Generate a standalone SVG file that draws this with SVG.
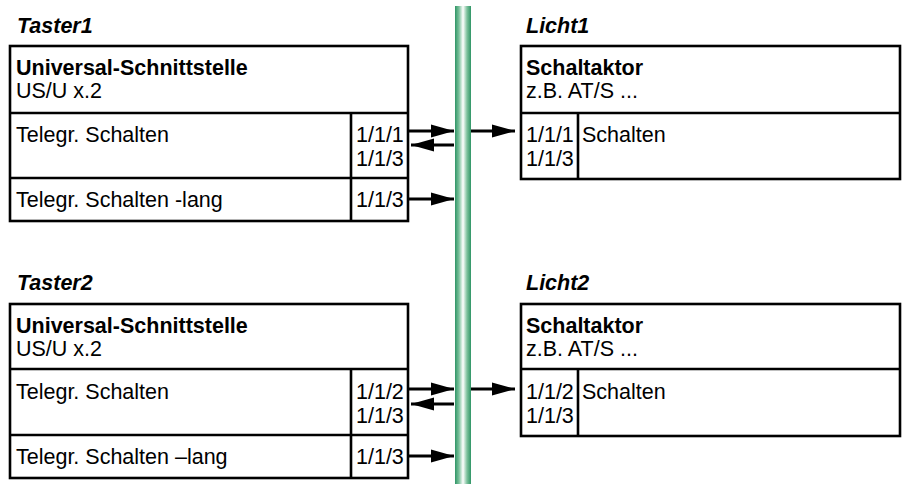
<svg xmlns="http://www.w3.org/2000/svg" width="903" height="484" viewBox="0 0 903 484">
  <style>
    text { font-family: "Liberation Sans", Arial, sans-serif; font-size: 21.5px; fill: #000; }
    .title { font-weight: bold; font-style: italic; }
    .bold { font-weight: bold; }
    .box { fill: #fff; stroke: #000; stroke-width: 2.6; }
    .div { stroke: #000; stroke-width: 2.6; fill: none; }
    .conn { stroke: #000; stroke-width: 2.8; fill: none; marker-end: url(#arrow); }
  </style>
  <defs>
    <linearGradient id="busGrad" x1="0" y1="0" x2="1" y2="0">
      <stop offset="0" stop-color="#2f9566"/>
      <stop offset="0.25" stop-color="#7cc19c"/>
      <stop offset="0.5" stop-color="#ffffff"/>
      <stop offset="0.75" stop-color="#7cc19c"/>
      <stop offset="1" stop-color="#2f9566"/>
    </linearGradient>
    <marker id="arrow" markerUnits="userSpaceOnUse" markerWidth="23" markerHeight="14" refX="23" refY="7" orient="auto" overflow="visible">
      <path d="M0,0.5 L23,7 L0,13.5 z" fill="#000"/>
    </marker>
  </defs>

  <!-- bus line -->
  <rect id="bus" x="455" y="6" width="16" height="478" fill="url(#busGrad)"/>

  <!-- Taster1 -->
  <g id="taster1">
    <text class="title" x="17" y="33">Taster1</text>
    <rect class="box" x="10" y="46" width="398" height="175"/>
    <path class="div" d="M10,113 H408 M10,178 H408 M351,113 V221"/>
    <text class="bold" x="16" y="75">Universal-Schnittstelle</text>
    <text x="16" y="98">US/U x.2</text>
    <text x="16" y="142">Telegr. Schalten</text>
    <text x="356" y="142">1/1/1</text>
    <text x="356" y="166">1/1/3</text>
    <text x="16" y="207">Telegr. Schalten -lang</text>
    <text x="356" y="207">1/1/3</text>
  </g>

  <!-- Licht1 -->
  <g id="licht1">
    <text class="title" x="526" y="33">Licht1</text>
    <rect class="box" x="521" y="46" width="379" height="133"/>
    <path class="div" d="M521,113 H900 M578,113 V179"/>
    <text class="bold" x="526" y="75">Schaltaktor</text>
    <text x="526" y="98">z.B. AT/S ...</text>
    <text x="526" y="142">1/1/1</text>
    <text x="526" y="166">1/1/3</text>
    <text x="582" y="142">Schalten</text>
  </g>

  <!-- Taster2 -->
  <g id="taster2">
    <text class="title" x="17" y="290">Taster2</text>
    <rect class="box" x="10" y="304" width="398" height="174"/>
    <path class="div" d="M10,369 H408 M10,435 H408 M351,369 V478"/>
    <text class="bold" x="16" y="333">Universal-Schnittstelle</text>
    <text x="16" y="356">US/U x.2</text>
    <text x="16" y="399">Telegr. Schalten</text>
    <text x="356" y="399">1/1/2</text>
    <text x="356" y="423">1/1/3</text>
    <text x="16" y="464">Telegr. Schalten –lang</text>
    <text x="356" y="464">1/1/3</text>
  </g>

  <!-- Licht2 -->
  <g id="licht2">
    <text class="title" x="526" y="290">Licht2</text>
    <rect class="box" x="521" y="304" width="379" height="132"/>
    <path class="div" d="M521,369 H900 M578,369 V436"/>
    <text class="bold" x="526" y="333">Schaltaktor</text>
    <text x="526" y="356">z.B. AT/S ...</text>
    <text x="526" y="399">1/1/2</text>
    <text x="526" y="423">1/1/3</text>
    <text x="582" y="399">Schalten</text>
  </g>

  <!-- connectors -->
  <g id="connectors">
    <line class="conn" x1="409" y1="131" x2="454" y2="131"/>
    <line class="conn" x1="454" y1="145" x2="411" y2="145"/>
    <line class="conn" x1="409" y1="199" x2="454" y2="199"/>
    <line class="conn" x1="471" y1="131" x2="515" y2="131"/>
    <line class="conn" x1="409" y1="389" x2="454" y2="389"/>
    <line class="conn" x1="454" y1="404" x2="411" y2="404"/>
    <line class="conn" x1="409" y1="456" x2="454" y2="456"/>
    <line class="conn" x1="471" y1="389" x2="515" y2="389"/>
  </g>
</svg>
